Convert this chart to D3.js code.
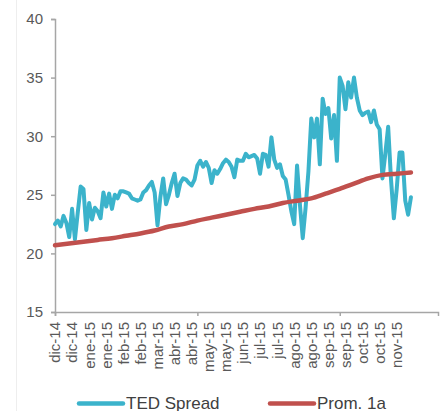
<!DOCTYPE html>
<html>

<head>
    <meta charset="utf-8">
    <style>
        body {
            margin: 0;
            background-color: #FFFFFF;
        }

        svg text {
            font-family: "Liberation Sans", Arial, sans-serif;
        }
    </style>
    <script src="https://cdn.jsdelivr.net/npm/d3@7/dist/d3.min.js"></script>
</head>

<body>
    <script>
        // x labels, one every 12 days on the category axis
        var labels = ["dic-14", "dic-14", "ene-15", "ene-15", "feb-15", "feb-15", "mar-15",
            "abr-15", "abr-15", "may-15", "may-15", "jun-15", "jul-15", "jul-15",
            "ago-15", "ago-15", "sep-15", "sep-15", "oct-15", "oct-15", "nov-15"];

        var yTicks = [15, 20, 25, 30, 35, 40];

        // TED Spread, one reading every 2 days
        var ted = [22.5, 22.8, 22.3, 23.2, 22.6, 21.4, 23.8, 21.2, 23.5, 25.7,
            25.5, 22.0, 24.3, 22.9, 23.9, 23.6, 23.0, 25.2, 24.0, 25.1,
            23.8, 25.0, 24.7, 25.3, 25.3, 25.2, 25.1, 24.7, 24.6, 24.5,
            24.6, 25.2, 25.4, 25.8, 26.1, 25.2, 22.4, 24.8, 26.4, 24.2,
            25.0, 26.0, 26.8, 24.9, 26.0, 26.4, 26.3, 26.0, 25.8, 26.3,
            27.5, 27.9, 27.4, 27.8, 27.3, 26.0, 27.1, 26.8, 27.2, 27.7,
            28.0, 27.8, 27.4, 26.5, 28.0, 27.9, 27.9, 28.5, 28.2, 28.3,
            28.4, 28.1, 26.8, 28.5, 28.4, 27.4, 29.9, 28.0, 27.3, 27.6,
            26.6, 26.3, 25.0, 23.6, 22.5, 27.5, 24.2, 21.3, 23.9, 27.0,
            31.5, 29.9, 31.5, 27.6, 33.2, 31.9, 32.4, 29.8, 31.8, 27.9,
            35.0, 34.3, 32.3, 34.6, 33.3, 35.0, 33.3, 32.2, 31.8, 32.0,
            32.1, 31.2, 32.2, 31.0, 30.6, 26.4, 28.5, 30.8, 26.3, 23.0,
            25.5, 28.6, 28.6, 24.5, 23.3, 24.8];

        // Prom. 1a, one reading every 10 days
        var prom = [20.7, 20.85, 21.0, 21.15, 21.3, 21.5, 21.7, 21.95, 22.3, 22.5,
            22.8, 23.05, 23.3, 23.55, 23.8, 24.0, 24.3, 24.5, 24.7, 25.1,
            25.5, 25.95, 26.4, 26.7, 26.8, 26.9];

        var w = 441;
        var h = 411;

        var svg = d3.select("body")
            .append("svg")
            .attr("width", w)
            .attr("height", h);

        // faint border of the chart area
        svg.append("line")
            .attr("x1", 16.5).attr("x2", 16.5)
            .attr("y1", 0).attr("y2", h)
            .attr("stroke", "#EEEEEE")
            .attr("stroke-width", 1);

        var x = d3.scaleLinear()
            .domain([0, 269])
            .range([55, 438]);

        var y = d3.scaleLinear()
            .domain([15, 40])
            .range([312, 19]);

        // Y axis
        var yAxis = svg.append("g")
            .attr("transform", "translate(" + x(0) + ",0)")
            .call(d3.axisLeft(y).tickValues(yTicks).tickSize(4).tickPadding(8));
        yAxis.selectAll("path, line").attr("stroke", "#A6A6A6").attr("stroke-width", 1.5);
        yAxis.selectAll("text")
            .style("font-size", "15px")
            .attr("fill", "#595959");

        // X axis: long ticks every 100 days, labels every 12
        var xAxis = svg.append("g")
            .attr("transform", "translate(0," + y(15) + ")")
            .call(d3.axisBottom(x).tickValues([0, 100, 200]).tickSize(4).tickFormat(""));
        xAxis.selectAll("path, line").attr("stroke", "#A6A6A6").attr("stroke-width", 1.5);

        svg.append("g")
            .selectAll("text")
            .data(labels)
            .enter()
            .append("text")
            .attr("transform", function (d, i) {
                return "translate(" + x(i * 12) + "," + (y(15) + 10) + ") rotate(-90)";
            })
            .attr("dy", "0.36em")
            .attr("text-anchor", "end")
            .style("font-size", "15px")
            .attr("fill", "#595959")
            .text(function (d) { return d; });

        var tedLine = d3.line()
            .x(function (d, i) { return x(i * 2); })
            .y(function (d) { return y(d); });

        var promLine = d3.line()
            .x(function (d, i) { return x(i * 10); })
            .y(function (d) { return y(d); })
            .curve(d3.curveMonotoneX);

        svg.append("path")
            .datum(ted)
            .attr("d", tedLine)
            .attr("fill", "none")
            .attr("stroke", "#3BB3CB")
            .attr("stroke-width", 4)
            .attr("stroke-linejoin", "round")
            .attr("stroke-linecap", "round");

        svg.append("path")
            .datum(prom)
            .attr("d", promLine)
            .attr("fill", "none")
            .attr("stroke", "#C0504D")
            .attr("stroke-width", 4.5)
            .attr("stroke-linecap", "round");

        // legend
        var legend = [
            { name: "TED Spread", color: "#3BB3CB", x: 79 },
            { name: "Prom. 1a", color: "#C0504D", x: 270 }
        ];

        var lg = svg.append("g")
            .selectAll("g")
            .data(legend)
            .enter()
            .append("g")
            .attr("transform", function (d) { return "translate(" + d.x + ",403.5)"; });

        lg.append("line")
            .attr("x1", 0).attr("x2", 44)
            .attr("y1", 0).attr("y2", 0)
            .attr("stroke", function (d) { return d.color; })
            .attr("stroke-width", 4.5)
            .attr("stroke-linecap", "round");

        lg.append("text")
            .attr("x", 47)
            .attr("y", 5)
            .style("font-size", "17px")
            .attr("fill", "#404040")
            .text(function (d) { return d.name; });
    </script>
</body>

</html>
